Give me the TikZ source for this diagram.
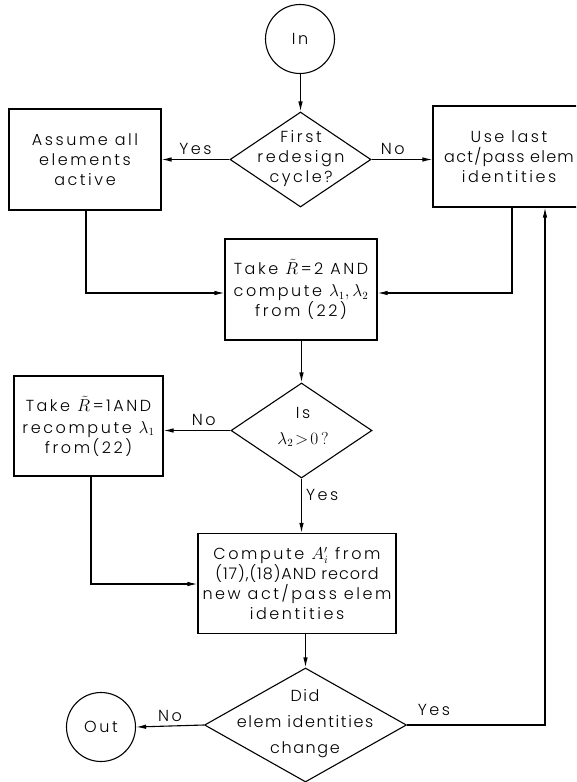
\documentclass[tikz,border=0pt]{standalone}
\usepackage{fontspec}
\setmainfont[LetterSpace=16]{Poppins Light}
\usetikzlibrary{shapes.geometric,arrows.meta}
\begin{document}
\begin{tikzpicture}[x=1pt,y=-1pt,
  every node/.style={font=\fontsize{16}{20}\selectfont},
  proc/.style={draw, line width=1.1pt, align=center, inner sep=0pt},
  dec/.style={draw, diamond, line width=1.1pt, inner sep=0pt},
  term/.style={draw, circle, line width=1.1pt, minimum size=69pt, inner sep=0pt},
  txt/.style={align=center, inner sep=0pt},
  lbl/.style={inner sep=1pt},
  arr/.style={line width=1.1pt, -{Latex[length=10pt,width=4.5pt]}}]
\useasboundingbox (0,0) rectangle (576,782);
\clip (0,0) rectangle (576,782);

% terminals
\node[term] (in) at (300,39) {In};
\node[term] (out) at (101,727) {Out};

% decisions
\node[dec, minimum width=141pt, minimum height=95pt] (d1) at (300.5,159.5) {};
\node[txt] (d1t) at (301,159) {First\\redesign\\cycle?};
\node[dec, minimum width=141pt, minimum height=95pt] (d2) at (301.5,430.5) {};
\node[txt] (d2t) at (303,427) {Is\\[6pt]$\lambda_2\!>\!0\,?$};
\node[dec, minimum width=202pt, minimum height=114pt] (d3) at (305.5,725) {};
\node[txt, font=\fontsize{16}{26}\selectfont\addfontfeature{LetterSpace=10}] (d3t) at (305,724) {Did\\elem identities\\change};

% process boxes
\node[proc, minimum width=152pt, minimum height=101pt] (assume) at (85,159.5) {Assume all\\elements\\active};
\node[proc, minimum width=152pt, minimum height=101pt] (uselast) at (509,156.5) {Use last\\{\addfontfeature{LetterSpace=8}act/pass elem}\\identities};
\node[proc, minimum width=152pt, minimum height=101pt] (take2) at (301,289.5) {Take $\tilde{R}$\,=2 AND\\[2pt]compute $\lambda_1,\lambda_2$\\from (22)};
\node[proc, minimum width=149pt, minimum height=100pt] (take1) at (88.5,426) {Take $\tilde{R}$\,=1AND\\[2pt]recompute $\lambda_1$\\from(22)};
\node[proc, minimum width=198pt, minimum height=100pt] (comp) at (297,583.5) {Compute $A_i'$ from\\{\addfontfeature{LetterSpace=6}(17),(18)AND record}\\new act/pass elem\\identities};

% connectors
\draw[arr] (in.south -| d1.north) -- (d1.north);
\draw[arr] (d1.west) -- (d1.west -| assume.east) node[lbl, pos=0.5, above=3pt] (yes1) {Yes};
\draw[arr] (d1.east) -- (d1.east -| uselast.west) node[lbl, pos=0.35, above=3pt] (no1) {No};
\coordinate (aL) at (86,293);
\coordinate (aR) at (512,293);
\draw[arr] (assume.south -| aL) -- (aL) -- (aL -| take2.west);
\draw[arr] (uselast.south -| aR) -- (aR) -- (aR -| take2.east);
\draw[arr] (take2.south -| d2.north) -- (d2.north);
\draw[arr] (d2.west) -- (d2.west -| take1.east) node[lbl, pos=0.4, above=3pt] (no2) {No};
\draw[arr] (d2.south) -- (d2.south |- comp.north) node[lbl, pos=0.3, right=3pt] (yes2) {Yes};
\coordinate (bL) at (91,584);
\draw[arr] (take1.south -| bL) -- (bL) -- (bL -| comp.west);
\draw[arr] (comp.south -| d3.north) -- (d3.north);
\draw[arr] (d3.west) -- (out.east) node[lbl, pos=0.5, above=3pt] (no3) {No};
\coordinate (cR) at (545,725);
\draw[arr] (d3.east) -- (cR) -- (cR |- uselast.south);
\node[lbl] (yes3) at (434,710) {Yes};
\end{tikzpicture}
\end{document}
